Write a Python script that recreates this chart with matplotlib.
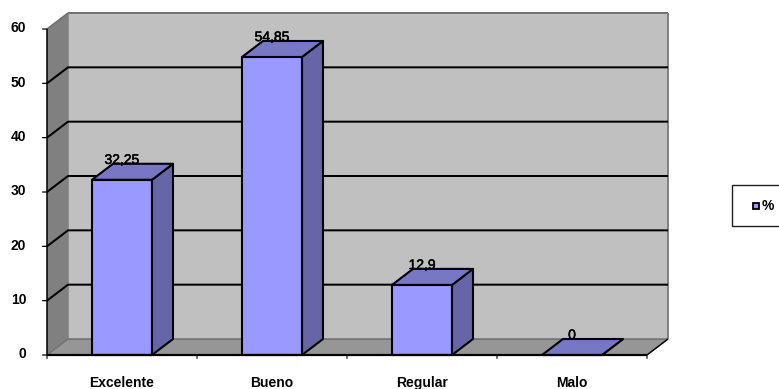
import matplotlib
matplotlib.use('Agg')
import matplotlib.pyplot as plt
import matplotlib.patheffects as pe
from matplotlib.patches import Polygon, Rectangle

categories = ['Excelente', 'Bueno', 'Regular', 'Malo']
values = [32.25, 54.85, 12.9, 0]
value_labels = ['32,25', '54,85', '12,9', '0']
yticks = [0, 10, 20, 30, 40, 50, 60]
series_name = '%'

W, H = 779, 389
plt.rcParams['font.family'] = ['Liberation Sans', 'DejaVu Sans']

fig = plt.figure(figsize=(W / 100, H / 100), dpi=100)
# front plane of the 3D box, the walls are pushed back by dx, dy
ax = fig.add_axes([47 / W, (H - 355) / H, 600 / W, 326 / H])
ax.set_xlim(0, 4)
ax.set_ylim(0, 60)
ax.axis('off')

dx = 21 / 150
dy = 16 / 326 * 60
bar_w = 0.4
n = len(categories)
ymax = yticks[-1]


def face(pts, color, z, edge='none', lw=0):
    ax.add_patch(Polygon(pts, closed=True, facecolor=color, edgecolor=edge,
                         linewidth=lw, zorder=z, clip_on=False, joinstyle='round'))


def seg(xs, ys, color='black', lw=1.45, z=3):
    ax.plot(xs, ys, color=color, lw=lw, zorder=z, clip_on=False, solid_capstyle='butt')


# walls and floor
face([(dx, dy), (n + dx, dy), (n + dx, ymax + dy), (dx, ymax + dy)], '#c0c0c0', 1)
face([(0, 0), (dx, dy), (dx, ymax + dy), (0, ymax)], '#808080', 1)
face([(0, 0), (n, 0), (n + dx, dy), (dx, dy)], '#969696', 1)

seg([dx, n + dx], [ymax + dy, ymax + dy], '#707070', 1.4, 2)
seg([n + dx, n + dx], [dy, ymax + dy], '#808080', 1.4, 2)
seg([dx, dx], [dy, ymax + dy], '#808080', 1.1, 2)
seg([dx, n + dx], [dy, dy], '#707070', 1.1, 2)
seg([0, dx], [ymax, ymax + dy], '#707070', 1.1, 2)
seg([0, dx], [0, dy], '#707070', 1.0, 2)
seg([n, n + dx], [0, dy], 'black', 1.1, 2)

# gridlines run over the side wall and the back wall
for t in yticks[1:-1]:
    seg([0, dx, n + dx], [t, t + dy, t + dy])

# axis lines and ticks
seg([0, n], [0, 0], 'black', 1.6, 6)
seg([0, 0], [0, ymax], 'black', 1.1, 6)
for t in yticks:
    ax.annotate('', xy=(0, t), xytext=(-3.2, 0), xycoords='data', textcoords='offset points',
                arrowprops=dict(arrowstyle='-', color='black', lw=0.9, shrinkA=0, shrinkB=0))
    ax.annotate(str(t), xy=(0, t), xytext=(-15, 0.5), textcoords='offset points', ha='right',
                va='center', fontsize=10, fontweight='bold', color='black')
for i in range(n + 1):
    ax.annotate('', xy=(i, 0), xytext=(0, -2.5), xycoords='data', textcoords='offset points',
                arrowprops=dict(arrowstyle='-', color='black', lw=0.8, shrinkA=0, shrinkB=0))

# bars
for i, v in enumerate(values):
    x0 = i + 0.5 - bar_w / 2
    x1 = x0 + bar_w
    face([(x0, 0), (x1, 0), (x1, v), (x0, v)], '#9999ff', 4, 'black', 1.5)
    face([(x1, 0), (x1 + dx, dy), (x1 + dx, v + dy), (x1, v)], '#6565a8', 4, 'black', 1.5)
    face([(x0, v), (x1, v), (x1 + dx, v + dy), (x0 + dx, v + dy)], '#7777c6', 4, 'black', 1.5)
    ax.annotate(value_labels[i], xy=(i + 0.5, v), xytext=(0, 14.3), textcoords='offset points',
                ha='center', va='center', fontsize=10, color='black', zorder=7,
                path_effects=[pe.withStroke(linewidth=0.35, foreground='black')])
    ax.annotate(categories[i], xy=(i + 0.5, 0), xytext=(0, -20), textcoords='offset points',
                ha='center', va='center', fontsize=10, fontweight='bold', color='black')

# legend box runs off the right side of the figure
fig.add_artist(Rectangle((732 / W, (H - 226) / H), 60 / W, 41 / H, facecolor='white',
                         edgecolor='#202020', linewidth=1.0, transform=fig.transFigure))
fig.add_artist(Rectangle((752.5 / W, (H - 208.5) / H), 6 / W, 6 / H, facecolor='#9999ff',
                         edgecolor='black', linewidth=1.3, transform=fig.transFigure))
fig.text(761.5 / W, (H - 205.5) / H, series_name, fontsize=10, fontweight='bold',
         ha='left', va='center', color='black')

fig.savefig('out.png', dpi=100)
